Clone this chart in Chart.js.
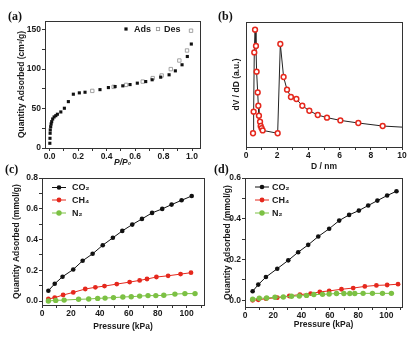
<!DOCTYPE html>
<html>
<head>
<meta charset="utf-8">
<script src="https://cdn.jsdelivr.net/npm/chart.js@4.4.0/dist/chart.umd.min.js"></script>
<style>
  body { margin: 0; background: #fff; }
  #wrap { position: relative; width: 415px; height: 338px; overflow: hidden; background: #fff; }
  #wrap canvas { position: absolute; left: 0; top: 0; }
  .lab { position: absolute; font: bold 12px "Liberation Serif", "DejaVu Serif", serif; color: #111; }
</style>
</head>
<body>
<div id="wrap">
  <canvas id="chA" width="415" height="338"></canvas>
  <canvas id="chB" width="415" height="338"></canvas>
  <canvas id="chC" width="415" height="338"></canvas>
  <canvas id="chD" width="415" height="338"></canvas>
  <div class="lab" style="left:8px;top:9px">(a)</div>
  <div class="lab" style="left:218px;top:9px">(b)</div>
  <div class="lab" style="left:5px;top:162px">(c)</div>
  <div class="lab" style="left:214px;top:162px">(d)</div>
</div>
<script>
// (a) изотерма N2: адсорбция / десорбция
const adsP = [0.002, 0.003, 0.004, 0.005, 0.008, 0.011, 0.015, 0.022, 0.032, 0.044, 0.055, 0.079, 0.104, 0.132, 0.167, 0.209, 0.249, 0.354, 0.413, 0.46, 0.514, 0.565, 0.616, 0.675, 0.72, 0.78, 0.839, 0.883, 0.93, 0.967, 0.995];
const adsQ = [6, 12.3, 18.7, 22.9, 27, 30.5, 33.4, 36.8, 39.4, 41, 42.8, 45.7, 50.4, 58.8, 68.2, 69.9, 70.7, 74, 76.6, 77.9, 78.8, 80.4, 82.2, 84.2, 86.5, 89.8, 92.8, 97.8, 105.5, 116, 131.8];
const desP = [0.30, 0.45, 0.537, 0.654, 0.724, 0.787, 0.851, 0.911, 0.965, 0.993];
const desQ = [72.4, 77.5, 80, 84.2, 88.6, 91.9, 100, 110.9, 123.6, 148.7];
const aXTicks = [0, 0.2, 0.4, 0.6, 0.8, 1.0];
const aXMinor = [0.1, 0.3, 0.5, 0.7, 0.9];
const aYTicks = [0, 50, 100, 150];
const aYMinor = [25, 75, 125];

// (b) распределение пор
const poreD = [0.45, 0.49, 0.53, 0.58, 0.64, 0.68, 0.75, 0.79, 0.83, 0.9, 0.94, 1.0, 1.07, 2.03, 2.2, 2.41, 2.63, 2.88, 3.23, 3.61, 4.06, 4.6, 5.19, 6.05, 7.2, 8.76, 10];
const poreV = [11, 28.3, 75.7, 93.9, 80.8, 60.3, 43.7, 33, 25, 20.3, 16.8, 15, 13.3, 11, 82.4, 56, 45.9, 40, 38.4, 33, 29, 25.6, 23.5, 21.3, 19.2, 16.8, 15.9];
const bXTicks = [0, 2, 4, 6, 8, 10];
const bXMinor = [1, 3, 5, 7, 9];

// (c) изотермы газов
const cCO2P = [4.4, 8.8, 14.2, 21.6, 28.1, 35, 42, 49, 55.5, 62.4, 69.1, 76.1, 83.1, 89.6, 96.5, 103.5];
const cCO2Q = [0.067, 0.112, 0.158, 0.205, 0.262, 0.307, 0.363, 0.411, 0.456, 0.497, 0.534, 0.573, 0.599, 0.627, 0.655, 0.683];
const cCH4P = [4.4, 8.8, 14.6, 21.6, 29.9, 36.9, 43.2, 51.7, 60.6, 67.5, 72.6, 79.1, 87.2, 95.8, 103];
const cCH4Q = [0.013, 0.022, 0.039, 0.056, 0.078, 0.089, 0.097, 0.11, 0.123, 0.134, 0.143, 0.156, 0.164, 0.175, 0.184];
const cN2P = [4.4, 9.5, 15.3, 25.3, 32.3, 38.5, 43.6, 49.4, 55.9, 61.7, 67.5, 73.3, 78.7, 84.2, 91.9, 98.8, 105.8];
const cN2Q = [0, 0.004, 0.006, 0.011, 0.013, 0.017, 0.019, 0.022, 0.026, 0.028, 0.032, 0.035, 0.035, 0.037, 0.045, 0.048, 0.048];
const cYTicks = [0, 0.2, 0.4, 0.6, 0.8];
const cYMinor = [0.1, 0.3, 0.5, 0.7];

// (d) изотермы газов
const dCO2P = [5.4, 9.4, 14.8, 22.8, 30.6, 37.6, 44.7, 51.8, 59.5, 66.6, 73.6, 80.5, 87.1, 93.6, 100.5, 107.1];
const dCO2Q = [0.044, 0.077, 0.114, 0.155, 0.196, 0.236, 0.272, 0.313, 0.351, 0.391, 0.419, 0.44, 0.465, 0.489, 0.514, 0.535];
const dCH4P = [5.4, 9.4, 14.8, 22.8, 31.3, 38.8, 46.4, 52.9, 59.5, 68.2, 76.5, 84.7, 92.9, 100.5, 108.2];
const dCH4Q = [0, 0.002, 0.008, 0.013, 0.021, 0.028, 0.033, 0.041, 0.046, 0.054, 0.06, 0.068, 0.073, 0.075, 0.079];
const dN2P = [5.4, 10.1, 15.3, 21.2, 27.1, 32.9, 38.4, 43.5, 48.7, 54.8, 59.5, 64.7, 69.9, 74.1, 77.6, 83.5, 90.1, 97.2, 103.5];
const dN2Q = [0.005, 0.01, 0.011, 0.015, 0.016, 0.02, 0.021, 0.024, 0.028, 0.029, 0.031, 0.033, 0.033, 0.033, 0.033, 0.034, 0.034, 0.034, 0.034];
const dYTicks = [0, 0.2, 0.4, 0.6];
const dYMinor = [0.1, 0.3, 0.5];

const pXTicks = [0, 20, 40, 60, 80, 100];
const pXMinor = [10, 30, 50, 70, 90, 110];

const FONT = '"Liberation Sans", Arial, sans-serif';
const RED = '#e5281d';
const GREEN = '#7cc144';
const BLACK = '#111';

function pts(xs, ys) {
    return xs.map((x, i) => ({x: x, y: ys[i]}));
}

// Рамка вокруг области графика (как в Origin)
const framePlugin = {
    id: 'frame',
    beforeDatasetsDraw(chart) {
        const a = chart.chartArea, ctx = chart.ctx;
        ctx.save();
        ctx.strokeStyle = '#333';
        ctx.lineWidth = 1;
        ctx.strokeRect(Math.round(a.left) + 0.5, Math.round(a.top) + 0.5,
            Math.round(a.right - a.left), Math.round(a.bottom - a.top));
        ctx.restore();
    }
};

// Легенда внутри области графика
const legendPlugin = {
    id: 'innerLegend',
    afterDraw(chart, args, opts) {
        if (!opts || !opts.items) return;
        const a = chart.chartArea, ctx = chart.ctx;
        ctx.save();
        opts.items.forEach(it => {
            const x = a.left + it.dx, y = a.top + it.dy;
            if (it.line) {
                ctx.strokeStyle = it.color;
                ctx.lineWidth = 1;
                ctx.beginPath();
                ctx.moveTo(x - 7, y);
                ctx.lineTo(x + 7, y);
                ctx.stroke();
            }
            if (it.marker === 'sq') {
                ctx.fillStyle = it.color;
                ctx.fillRect(x - 1.6, y - 1.6, 3.2, 3.2);
            } else if (it.marker === 'osq') {
                ctx.strokeStyle = it.color;
                ctx.lineWidth = 0.9;
                ctx.strokeRect(x - 1.6, y - 1.6, 3.2, 3.2);
            } else if (it.marker === 'dot') {
                ctx.fillStyle = it.color;
                ctx.beginPath();
                ctx.arc(x, y, it.r, 0, Math.PI * 2);
                ctx.fill();
            }
            ctx.fillStyle = '#1a1a1a';
            ctx.font = 'bold 9px ' + FONT;
            ctx.textBaseline = 'middle';
            ctx.fillText(it.text, a.left + it.tx, y + 0.5);
        });
        ctx.restore();
    }
};

function scaleCfg(o) {
    return {
        type: 'linear',
        min: o.min,
        max: o.max,
        afterBuildTicks: function(s) {
            s.ticks = o.major.concat(o.minor).sort((a, b) => a - b).map(v => ({value: v}));
        },
        afterFit: function(s) {
            if (s.isHorizontal()) s.height = o.size; else s.width = o.size;
        },
        ticks: {
            autoSkip: false,
            maxRotation: 0,
            padding: 1,
            color: '#1a1a1a',
            font: {family: FONT, size: 8.5, weight: 'bold'},
            callback: function(v) {
                return o.major.indexOf(v) >= 0 ? v.toFixed(o.digits) : '';
            }
        },
        grid: {drawOnChartArea: false, tickLength: 3, color: '#333'},
        border: {display: false},
        title: {
            display: true,
            text: o.title,
            color: '#1a1a1a',
            padding: 0,
            font: {family: FONT, size: 8.5, weight: 'bold', style: o.italic ? 'italic' : 'normal'}
        }
    };
}

function baseOptions(pad, xs, ys, items) {
    return {
        responsive: false,
        animation: false,
        devicePixelRatio: 1,
        layout: {padding: pad},
        plugins: {
            legend: {display: false},
            tooltip: {enabled: false},
            innerLegend: {items: items}
        },
        scales: {x: xs, y: ys}
    };
}

function gasSet(label, xs, ys, color, r) {
    return {
        label: label,
        data: pts(xs, ys),
        showLine: true,
        borderColor: color,
        backgroundColor: color,
        borderWidth: 1,
        pointRadius: r,
        pointBorderWidth: 0
    };
}

// График (a)
new Chart(document.getElementById('chA'), {
    type: 'scatter',
    data: {
        datasets: [
            {label: 'Ads', data: pts(adsP, adsQ), pointStyle: 'rect', pointRadius: 2.2,
             backgroundColor: BLACK, borderColor: BLACK, borderWidth: 0},
            {label: 'Des', data: pts(desP, desQ), pointStyle: 'rect', pointRadius: 2.4,
             backgroundColor: 'rgba(255,255,255,0.6)', borderColor: '#999', borderWidth: 0.9}
        ]
    },
    options: baseOptions({left: 17, right: 215, top: 21, bottom: 170},
        scaleCfg({min: -0.032, max: 1.056, major: aXTicks, minor: aXMinor, digits: 1, size: 20, title: 'P/P\u2080', italic: true}),
        scaleCfg({min: 0, max: 161, major: aYTicks, minor: aYMinor, digits: 0, size: 28, title: 'Quantity Adsorbed (cm\u00b3/g)'}),
        [
            {dx: 81, dy: 8, marker: 'sq', color: BLACK, text: 'Ads', tx: 89},
            {dx: 113, dy: 8, marker: 'osq', color: '#999', text: 'Des', tx: 119}
        ]),
    plugins: [framePlugin, legendPlugin]
});

// График (b)
const bYScale = {
    type: 'linear', min: 0, max: 100,
    afterFit: function(s) { s.width = 14; },
    ticks: {display: false},
    grid: {display: false},
    border: {display: false},
    title: {display: true, text: 'dV / dD (a.u.)', color: '#1a1a1a', padding: 0,
            font: {family: FONT, size: 8.5, weight: 'bold'}}
};
new Chart(document.getElementById('chB'), {
    type: 'scatter',
    data: {
        datasets: [{
            label: 'PSD',
            data: pts(poreD, poreV),
            showLine: true,
            borderColor: '#222',
            borderWidth: 1,
            backgroundColor: '#fff',
            pointBorderColor: RED,
            pointBorderWidth: 1.5,
            pointRadius: poreD.map((d, i) => i === poreD.length - 1 ? 0 : 2.4)
        }]
    },
    options: baseOptions({left: 232, right: 13, top: 22, bottom: 166},
        scaleCfg({min: 0, max: 10, major: bXTicks, minor: bXMinor, digits: 0, size: 25, title: 'D / nm'}),
        bYScale, null),
    plugins: [framePlugin, legendPlugin]
});

// График (c)
new Chart(document.getElementById('chC'), {
    type: 'scatter',
    data: {
        datasets: [
            gasSet('N2', cN2P, cN2Q, GREEN, 2.7),
            gasSet('CH4', cCH4P, cCH4Q, RED, 2.4),
            gasSet('CO2', cCO2P, cCO2Q, BLACK, 2.3)
        ]
    },
    options: baseOptions({left: 12, right: 211, top: 178, bottom: 6},
        scaleCfg({min: 0, max: 112, major: pXTicks, minor: pXMinor, digits: 0, size: 27, title: 'Pressure (kPa)'}),
        scaleCfg({min: -0.026, max: 0.8, major: cYTicks, minor: cYMinor, digits: 1, size: 30, title: 'Quantity Adsorbed (mmol/g)'}),
        [
            {dx: 17, dy: 9.5, line: true, marker: 'dot', r: 2.3, color: BLACK, text: 'CO\u2082', tx: 30},
            {dx: 17, dy: 22, line: true, marker: 'dot', r: 2.4, color: RED, text: 'CH\u2084', tx: 30},
            {dx: 17, dy: 35, line: true, marker: 'dot', r: 2.7, color: GREEN, text: 'N\u2082', tx: 30}
        ]),
    plugins: [framePlugin, legendPlugin]
});

// График (d)
new Chart(document.getElementById('chD'), {
    type: 'scatter',
    data: {
        datasets: [
            gasSet('N2', dN2P, dN2Q, GREEN, 2.7),
            gasSet('CH4', dCH4P, dCH4Q, RED, 2.4),
            gasSet('CO2', dCO2P, dCO2Q, BLACK, 2.3)
        ]
    },
    options: baseOptions({left: 223, right: 13, top: 178, bottom: 8},
        scaleCfg({min: 0, max: 111, major: pXTicks, minor: pXMinor, digits: 0, size: 23, title: 'Pressure (kPa)'}),
        scaleCfg({min: -0.033, max: 0.6, major: dYTicks, minor: dYMinor, digits: 1, size: 22, title: 'Quantity Adsorbed (mmol/g)'}),
        [
            {dx: 17, dy: 9, line: true, marker: 'dot', r: 2.3, color: BLACK, text: 'CO\u2082', tx: 27},
            {dx: 17, dy: 22, line: true, marker: 'dot', r: 2.4, color: RED, text: 'CH\u2084', tx: 27},
            {dx: 17, dy: 35, line: true, marker: 'dot', r: 2.7, color: GREEN, text: 'N\u2082', tx: 27}
        ]),
    plugins: [framePlugin, legendPlugin]
});
</script>
</body>
</html>
